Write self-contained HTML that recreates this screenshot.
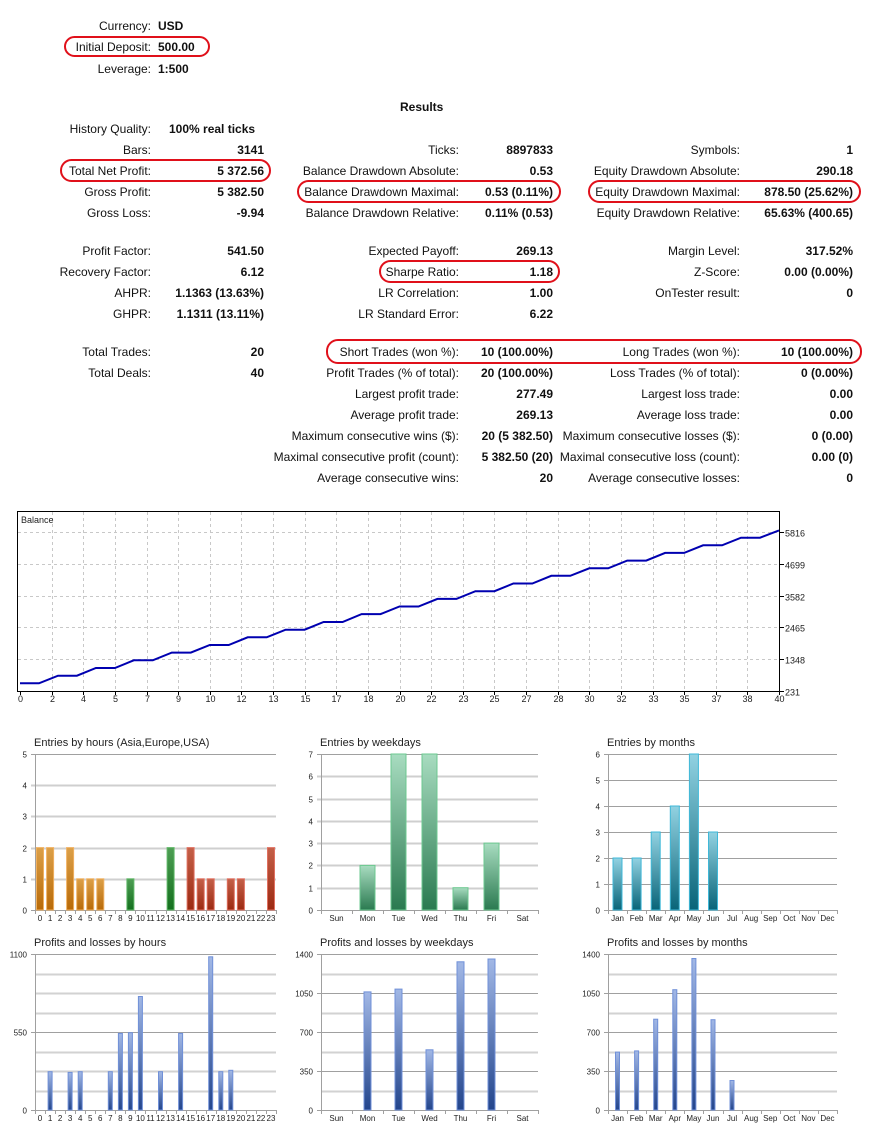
<!DOCTYPE html>
<html><head><meta charset="utf-8">
<style>
body{margin:0;width:875px;height:1138px;background:#fff;position:relative;overflow:hidden;font-family:"Liberation Sans",Arial,sans-serif;font-size:12px;color:#111}
.t{position:absolute;line-height:16px;white-space:nowrap}
.r{text-align:right}
.b{font-weight:bold}
.oval{position:absolute;border:2.5px solid #e0101a;border-radius:12px;box-sizing:border-box}
svg{position:absolute;left:0;top:0}
</style></head>
<body>
<div id="report"></div>
<div class="oval" style="left:64px;top:36px;width:146px;height:21px"></div>
<div class="oval" style="left:60px;top:159px;width:211px;height:23px"></div>
<div class="oval" style="left:297px;top:180px;width:264px;height:23px"></div>
<div class="oval" style="left:588px;top:180px;width:273px;height:23px"></div>
<div class="oval" style="left:379px;top:260px;width:181px;height:23px"></div>
<div class="oval" style="left:326px;top:339px;width:536px;height:25px"></div>
<svg id="charts" width="875" height="1138"></svg>
<script>
// ---------- report table data ----------
const topRows = [["Currency:","USD",25],["Initial Deposit:","500.00",46],["Leverage:","1:500",68]];
const col1 = [["History Quality:","",128],["Bars:","3141",149],["Total Net Profit:","5 372.56",170],["Gross Profit:","5 382.50",191],["Gross Loss:","-9.94",212],
["Profit Factor:","541.50",250],["Recovery Factor:","6.12",271],["AHPR:","1.1363 (13.63%)",292],["GHPR:","1.1311 (13.11%)",313],["Total Trades:","20",351],["Total Deals:","40",372]];
const col2 = [["Ticks:","8897833",149],["Balance Drawdown Absolute:","0.53",170],["Balance Drawdown Maximal:","0.53 (0.11%)",191],["Balance Drawdown Relative:","0.11% (0.53)",212],
["Expected Payoff:","269.13",250],["Sharpe Ratio:","1.18",271],["LR Correlation:","1.00",292],["LR Standard Error:","6.22",313],
["Short Trades (won %):","10 (100.00%)",351],["Profit Trades (% of total):","20 (100.00%)",372],["Largest profit trade:","277.49",393],["Average profit trade:","269.13",414],
["Maximum consecutive wins ($):","20 (5 382.50)",435],["Maximal consecutive profit (count):","5 382.50 (20)",456],["Average consecutive wins:","20",477]];
const col3 = [["Symbols:","1",149],["Equity Drawdown Absolute:","290.18",170],["Equity Drawdown Maximal:","878.50 (25.62%)",191],["Equity Drawdown Relative:","65.63% (400.65)",212],
["Margin Level:","317.52%",250],["Z-Score:","0.00 (0.00%)",271],["OnTester result:","0",292],
["Long Trades (won %):","10 (100.00%)",351],["Loss Trades (% of total):","0 (0.00%)",372],["Largest loss trade:","0.00",393],["Average loss trade:","0.00",414],
["Maximum consecutive losses ($):","0 (0.00)",435],["Maximal consecutive loss (count):","0.00 (0)",456],["Average consecutive losses:","0",477]];
const rep = document.getElementById('report');
function txt(s, x, y, cls, right){
  const d=document.createElement('div');
  
  
  d.className='t '+cls;
  d.textContent=s;
  d.style.top=(y-7)+'px';
  if(right){d.style.right=(875-x)+'px';} else {d.style.left=x+'px';}
  rep.appendChild(d);
}
topRows.forEach(r=>{txt(r[0],151,r[2],'r',true);txt(r[1],158,r[2],'b',false);});
txt("Results",423-23,106,'b',false);
col1.forEach(r=>{txt(r[0],151,r[2],'r',true); if(r[1]) txt(r[1],264,r[2],'b r',true);});
txt("100% real ticks",169,128,'b',false);
col2.forEach(r=>{txt(r[0],459,r[2],'r',true);txt(r[1],553,r[2],'b r',true);});
col3.forEach(r=>{txt(r[0],740,r[2],'r',true);txt(r[1],853,r[2],'b r',true);});

// ---------- balance chart data ----------
const startBalance = 500;
const tradeProfits = [268.5,270.1,269.2,271.0,266.9,270.3,268.8,269.5,277.49,268.2,267.4,270.6,269.9,268.1,265.7,270.2,269.0,268.6,267.0,256.0];
const balanceYTicks = [231,1348,2465,3582,4699,5816];
const balanceXTicks = [0,2,4,5,7,9,10,12,13,15,17,18,20,22,23,25,27,28,30,32,33,35,37,38,40];

// ---------- small charts data ----------
const hourCats = [...Array(24).keys()].map(String);
const hourEntries = [2,2,0,2,1,1,1,0,0,1,0,0,0,2,0,2,1,1,0,1,1,0,0,2];
const hourProfits = [0,270,0,265,270,0,0,270,540,545,800,0,270,0,540,0,0,1080,270,280,0,0,0,0];
const dayCats = ["Sun","Mon","Tue","Wed","Thu","Fri","Sat"];
const dayEntries = [0,2,7,7,1,3,0];
const dayProfits = [0,1060,1085,540,1330,1355,0];
const monthCats = ["Jan","Feb","Mar","Apr","May","Jun","Jul","Aug","Sep","Oct","Nov","Dec"];
const monthEntries = [2,2,3,4,6,3,0,0,0,0,0,0];
const monthProfits = [520,530,815,1080,1360,810,265,0,0,0,0,0];
const entriesHoursTicks = [0,1,2,3,4,5];
const entriesDaysTicks = [0,1,2,3,4,5,6,7];
const entriesMonthsTicks = [0,1,2,3,4,5,6];
const profitsHoursTicks = [0,550,1100];
const profits1400Ticks = [0,350,700,1050,1400];

const NS='http://www.w3.org/2000/svg';
const svg=document.getElementById('charts');
function el(tag, attrs, parent){
  const e=document.createElementNS(NS,tag);
  for(const k in attrs) e.setAttribute(k,attrs[k]);
  (parent||svg).appendChild(e); return e;
}
function stext(s,x,y,size,anchor,name){
  const t=el('text',{x:x,y:y,'font-size':size,'text-anchor':anchor||'start','font-family':'Liberation Sans, Arial, sans-serif',fill:'#222'});
  
  
  t.textContent=s; return t;
}
const defs=el('defs',{});
function grad(id,bottom,top){
  const g=el('linearGradient',{id:id,x1:0,y1:1,x2:0,y2:0},defs);
  el('stop',{offset:0,'stop-color':bottom},g); el('stop',{offset:1,'stop-color':top},g);
}
grad('gOrange','#b86a08','#dca048');
grad('gGreen','#14701e','#4e9e54');
grad('gRed','#9c2a12','#c46048');
grad('gWeek','#2a7a50','#a8dcc0');
grad('gTeal','#086478','#92d2e2');
grad('gBlue','#23458c','#a2b8e6');

// ---- balance chart ----
(function(){
  const L=20,R=779,T=511,B=691;
  const maxDeal=40;
  const yMin=231,yMax=5816,yTopPx=532;
  const xS=i=>L+i*(R-L)/maxDeal;
  const yS=v=>B-(v-yMin)*(B-yTopPx)/(yMax-yMin);
  const frame=el('rect',{x:17.5,y:511.5,width:762,height:180,fill:'#fff',stroke:'#000','stroke-width':1});
  
  
  balanceYTicks.forEach(v=>{
    const y=Math.round(yS(v))+0.5;
    if(v!==yMin){
      const g=el('line',{x1:18,x2:779,y1:y,y2:y,stroke:'#c8c8c8','stroke-dasharray':'3,3'});
      
      
    }
    el('line',{x1:780,x2:784,y1:y,y2:y,stroke:'#000'});
    stext(String(v),785,y+4,9,'start','balance-y-tick');
  });
  balanceXTicks.forEach((v,k)=>{
    const x=Math.round(L+k*(R-L)/(balanceXTicks.length-1))+0.5;
    if(k>0 && k<balanceXTicks.length-1){
      const g=el('line',{x1:x,x2:x,y1:512,y2:690,stroke:'#c8c8c8','stroke-dasharray':'3,3'});
      
      
    }
    el('line',{x1:x,x2:x,y1:691,y2:695,stroke:'#000'});
    stext(String(v),x,702,9,'middle','balance-x-tick');
  });
  stext('Balance',21,523,9,'start','balance-chart-title');
  const bal=[startBalance];
  let b=startBalance;
  tradeProfits.forEach(p=>{bal.push(b); b+=p; bal.push(b);});
  const pts=bal.map((v,i)=>xS(i).toFixed(1)+','+yS(v).toFixed(1)).join(' ');
  const line=el('polyline',{points:pts,fill:'none',stroke:'#0000b0','stroke-width':2});
  
  
})();

// ---- small bar charts ----
function barChart(o){
  const {L,R,T,B,vmax,ticks,minor,values,cats,fill,stroke,barW,title,name,labelX,catSize,colorFn,lightTicks}=o;
  const yS=v=>B-v*(B-T)/vmax;
  stext(title,L-1,T-8,11,'start',name+'-title');
  minor.forEach(v=>{
    const y=Math.round(yS(v))+0.5;
    const g=el('line',{x1:L,x2:R,y1:y,y2:y,stroke:'#d2d2d2','stroke-width':2});
    
    
  });
  ticks.forEach(v=>{
    const y=Math.round(yS(v))+0.5;
    const light=lightTicks && v>0 && v<vmax;
    const g=el('line',{x1:L-4,x2:R,y1:y,y2:y,stroke:light?'#cfcfcf':'#a0a0a0','stroke-width':light?2:1});
    
    
    stext(String(v),labelX,y+3,8,'end',name+'-y-tick');
  });
  const ax=el('line',{x1:L+0.5,x2:L+0.5,y1:T,y2:B,stroke:'#a0a0a0'});
  
  
  const n=cats.length, sw=(R-L)/n;
  for(let i=0;i<=n;i++){
    const x=Math.round(L+i*sw)+0.5;
    el('line',{x1:x,x2:x,y1:B,y2:B+4,stroke:'#a0a0a0'});
  }
  cats.forEach((c,i)=>{
    const cx=L+(i+0.5)*sw;
    stext(c,cx,B+11,catSize,'middle',name+'-x-tick');
    const v=values[i];
    if(v>0){
      const y=yS(v);
      const f=colorFn?colorFn(i):[fill,stroke];
      const r=el('rect',{x:(cx-barW/2).toFixed(1),y:y.toFixed(1),width:barW,height:(B-y).toFixed(1),fill:'url(#'+f[0]+')',stroke:f[1],'stroke-width':1});
      
      
    }
  });
}
const hourColor=i=> i<=7?['gOrange','#f0b060']:(i<=14?['gGreen','#60b868']:['gRed','#e07060']);
barChart({L:35,R:276,T:754,B:910,vmax:5,ticks:entriesHoursTicks,minor:[],values:hourEntries,cats:hourCats,barW:7,lightTicks:true,
  title:'Entries by hours (Asia,Europe,USA)',name:'entries-hours',labelX:27,catSize:8,colorFn:hourColor});
barChart({L:321,R:538,T:754,B:910,vmax:7,ticks:entriesDaysTicks,minor:[],values:dayEntries,cats:dayCats,fill:'gWeek',stroke:'#6cc890',barW:15,lightTicks:true,
  title:'Entries by weekdays',name:'entries-weekdays',labelX:313,catSize:8});
barChart({L:608,R:837,T:754,B:910,vmax:6,ticks:entriesMonthsTicks,minor:[],values:monthEntries,cats:monthCats,fill:'gTeal',stroke:'#40b8d8',barW:9,
  title:'Entries by months',name:'entries-months',labelX:600,catSize:8});
barChart({L:35,R:276,T:954,B:1110,vmax:1100,ticks:profitsHoursTicks,minor:[137.5,275,412.5,687.5,825,962.5],values:hourProfits,cats:hourCats,fill:'gBlue',stroke:'#7090d8',barW:4,
  title:'Profits and losses by hours',name:'profits-hours',labelX:27,catSize:8});
barChart({L:321,R:538,T:954,B:1110,vmax:1400,ticks:profits1400Ticks,minor:[175,525,875,1225],values:dayProfits,cats:dayCats,fill:'gBlue',stroke:'#7090d8',barW:7,
  title:'Profits and losses by weekdays',name:'profits-weekdays',labelX:313,catSize:8});
barChart({L:608,R:837,T:954,B:1110,vmax:1400,ticks:profits1400Ticks,minor:[175,525,875,1225],values:monthProfits,cats:monthCats,fill:'gBlue',stroke:'#7090d8',barW:4,
  title:'Profits and losses by months',name:'profits-months',labelX:600,catSize:8});
</script>
</body></html>
